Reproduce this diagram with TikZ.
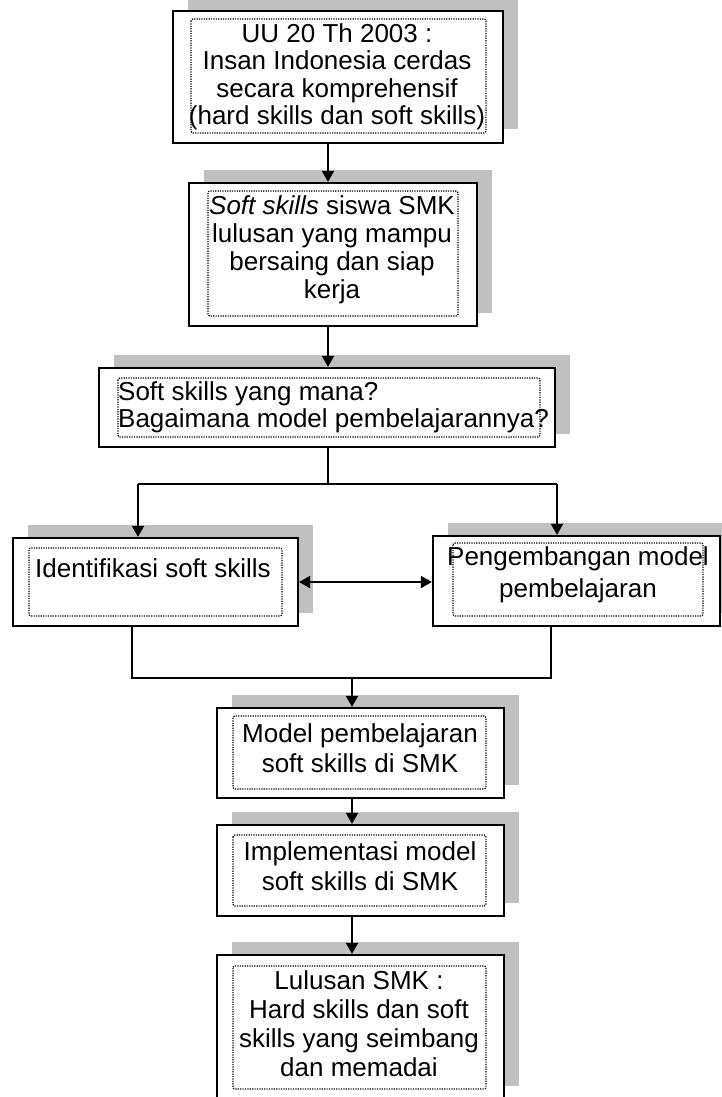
\documentclass[tikz,border=0pt]{standalone}
\usepackage{fontspec}
\setmainfont{Liberation Sans}
\usetikzlibrary{fit,shadows,arrows.meta}
\definecolor{shadowgray}{RGB}{192,192,192}
\tikzset{
  mainbox/.style={draw=black, line width=2.2pt, fill=white, inner sep=0pt,
    drop shadow={shadow xshift=14.5pt, shadow yshift=13.5pt, fill=shadowgray, opacity=1}},
  dotbox/.style={draw=black, line width=1.3pt, dash pattern=on 1.2pt off 1.2pt, rounded corners=2pt},
  txt/.style={inner sep=0pt, align=center, text=black},
  conn/.style={line width=1.8pt, -{Triangle[length=11pt,width=12pt]}},
  dconn/.style={line width=1.8pt, {Triangle[length=11pt,width=12pt]}-{Triangle[length=11pt,width=12pt]}},
  plain/.style={line width=1.8pt},
}
\newcommand{\fs}[1]{\fontsize{26}{#1}\selectfont}
\begin{document}
\begin{tikzpicture}[x=1pt,y=-1pt]
\useasboundingbox (0,0) rectangle (721,1097);
\fill[white] (0,0) rectangle (721,1097);

% outer boxes
\node[mainbox, fit={(173,11)(503,143)}] (b1) {};
\node[mainbox, fit={(189,183)(477,326)}] (b2) {};
\node[mainbox, fit={(99,368)(555,447)}] (b3) {};
\node[mainbox, fit={(13,538)(298,626)}] (bl) {};
\node[mainbox, fit={(433,536)(720,626)}] (br) {};
\node[mainbox, fit={(217,708)(504,798)}] (b4) {};
\node[mainbox, fit={(217,825)(504,916)}] (b5) {};
\node[mainbox, fit={(217,955)(504,1099)}] (b6) {};

% inner dotted frames
\draw[dotbox] (191,19) rectangle (486,133);
\draw[dotbox] (208,191) rectangle (458,316);
\draw[dotbox] (118,378) rectangle (540,437);
\draw[dotbox] (29,548) rectangle (282,616);
\draw[dotbox] (453,543) rectangle (703,616);
\draw[dotbox] (233,716) rectangle (486,789);
\draw[dotbox] (233,835) rectangle (486,906);
\draw[dotbox] (233,966) rectangle (486,1089);

% texts
\node[txt, font=\fs{27.5}] (t1) at (337,77) {UU 20 Th 2003 :\\Insan Indonesia cerdas\\secara komprehensif\\(hard skills dan soft skills)};
\node[txt, font=\fs{28}] (t2) at (332,250) {\textit{Soft skills} siswa SMK\\lulusan yang mampu\\bersaing dan siap\\kerja};
\node[txt, font=\fs{27}, align=left, anchor=west] (t3) at (118,407) {Soft skills yang mana?\\Bagaimana model pembelajarannya?};
\node[txt, font=\fs{28}] (tl) at (153,568) {Identifikasi soft skills};
\node[txt, font=\fs{32}] (tr) at (578,575) {Pengembangan model\\pembelajaran};
\node[txt, font=\fs{30}] (t4) at (360,748) {Model pembelajaran\\soft skills di SMK};
\node[txt, font=\fs{30}] (t5) at (360,866) {Implementasi model\\soft skills di SMK};
\node[txt, font=\fs{29}] (t6) at (359,1024) {Lulusan SMK :\\Hard skills dan soft\\skills yang seimbang\\dan memadai};

% connector helper coordinates
\coordinate (ax) at (328,0);
\coordinate (split) at (328,484);
\coordinate (jl) at (138,484);
\coordinate (jr) at (557,484);
\coordinate (ml) at (132,678);
\coordinate (mr) at (551,678);
\coordinate (mj) at (352,678);

% connectors
\draw[conn] (ax |- b1.south) -- (ax |- b2.north);
\draw[conn] (ax |- b2.south) -- (ax |- b3.north);
\draw[plain] (ax |- b3.south) -- (split);
\draw[plain] (jl) -- (jr);
\draw[conn] (jl) -- (jl |- bl.north);
\draw[conn] (jr) -- (jr |- br.north);
\draw[dconn] (bl.east) -- (bl.east -| br.west);
\draw[plain] (ml |- bl.south) -- (ml) -- (mr) -- (mr |- br.south);
\draw[conn] (mj) -- (mj |- b4.north);
\draw[conn] (mj |- b4.south) -- (mj |- b5.north);
\draw[conn] (mj |- b5.south) -- (mj |- b6.north);
\end{tikzpicture}
\end{document}
